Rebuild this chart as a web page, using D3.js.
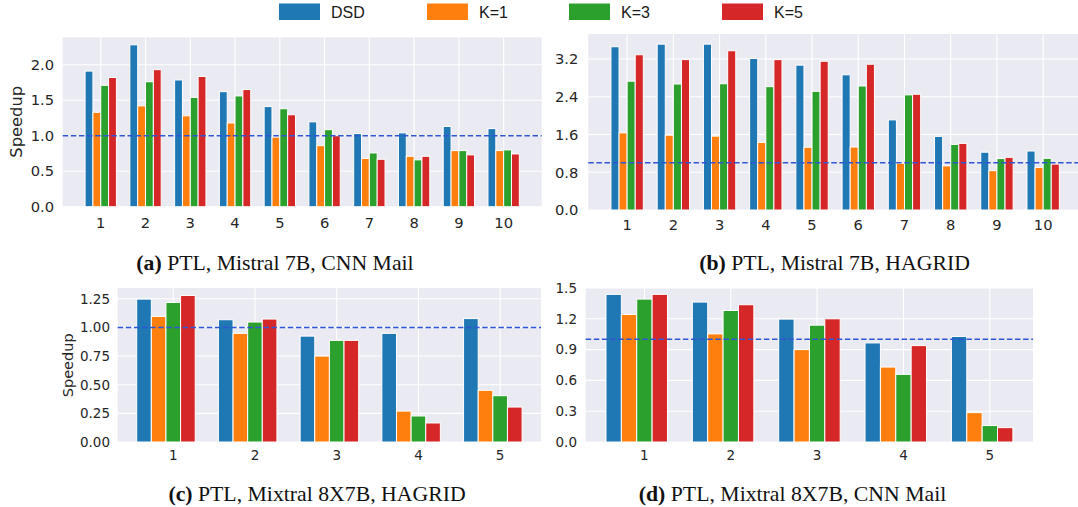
<!DOCTYPE html>
<html>
<head>
<meta charset="utf-8">
<script src="https://cdn.jsdelivr.net/npm/d3@7"></script>
<style>
  body { margin: 0; background: #fff; }
</style>
</head>
<body>
<svg id="fig" width="1078" height="507"></svg>
<script>
//------------------------------- DATA ----------------------------------------
var seriesNames  = ["DSD", "K=1", "K=3", "K=5"];
var seriesColors = ["#1f77b4", "#ff7f0e", "#2ca02c", "#d62728"];

var steps10 = [1, 2, 3, 4, 5, 6, 7, 8, 9, 10];
var steps5  = [1, 2, 3, 4, 5];

// one row per series: DSD, K=1, K=3, K=5
var mistralCnn = [
  [1.91, 2.28, 1.785, 1.62, 1.41, 1.195, 1.03, 1.04, 1.13, 1.10],
  [1.33, 1.42, 1.28, 1.18, 0.98, 0.86, 0.68, 0.71, 0.79, 0.79],
  [1.71, 1.76, 1.54, 1.56, 1.38, 1.085, 0.757, 0.66, 0.79, 0.80],
  [1.82, 1.93, 1.835, 1.65, 1.295, 1.0, 0.668, 0.71, 0.73, 0.743]
];
var mistralHagrid = [
  [3.46, 3.515, 3.515, 3.21, 3.07, 2.865, 1.91, 1.56, 1.225, 1.25],
  [1.635, 1.586, 1.565, 1.433, 1.33, 1.335, 0.99, 0.935, 0.833, 0.90],
  [2.73, 2.67, 2.676, 2.614, 2.516, 2.628, 2.44, 1.39, 1.09, 1.095],
  [3.29, 3.187, 3.375, 3.187, 3.152, 3.089, 2.453, 1.412, 1.117, 0.973]
];
var mixtralHagrid = [
  [1.247, 1.067, 0.924, 0.948, 1.077],
  [1.096, 0.948, 0.75, 0.27, 0.451],
  [1.218, 1.047, 0.887, 0.227, 0.404],
  [1.279, 1.073, 0.887, 0.166, 0.305]
];
var mixtralCnn = [
  [1.438, 1.363, 1.197, 0.965, 1.028],
  [1.242, 1.053, 0.90, 0.73, 0.286],
  [1.392, 1.281, 1.138, 0.659, 0.16],
  [1.438, 1.337, 1.20, 0.939, 0.14]
];

var ticksA = [0, 0.5, 1.0, 1.5, 2.0];
var ticksB = [0, 0.8, 1.6, 2.4, 3.2];
var ticksC = [0, 0.25, 0.5, 0.75, 1.0, 1.25];
var ticksD = [0, 0.3, 0.6, 0.9, 1.2, 1.5];

var baseline = 1.0;

var captionTags  = ["(a)", "(b)", "(c)", "(d)"];
var captionTexts = [" PTL, Mistral 7B, CNN Mail", " PTL, Mistral 7B, HAGRID",
                    " PTL, Mixtral 8X7B, HAGRID", " PTL, Mixtral 8X7B, CNN Mail"];

//------------------------------- LAYOUT --------------------------------------
var svg = d3.select("#fig");
var ink = "#262626";
var sans = "'DejaVu Sans', sans-serif";

var panels = [
  {data: mistralCnn, cats: steps10, ticks: ticksA, fmt: ".1f",
   left: 62.7, right: 541.7, top: 37.3, bottom: 206.7, xDom: [0.15, 10.85], yMax: 2.386,
   barW: 0.175, centered: false, fs: 14.7, yLab: {fs: 16.3, x: 16, y: 121.8}, xDy: 15.8, yGap: 8.7},
  {data: mistralHagrid, cats: steps10, ticks: ticksB, fmt: ".1f",
   left: 588.3, right: 1082, top: 34, bottom: 210, xDom: [0.16, 10.84], yMax: 3.73,
   barW: 0.175, centered: false, fs: 14.7, yLab: null, xDy: 14.5, yGap: 10},
  {data: mixtralHagrid, cats: steps5, ticks: ticksC, fmt: ".2f",
   left: 117.7, right: 541, top: 288, bottom: 442, xDom: [0.32, 5.5], yMax: 1.344,
   barW: 0.179, centered: true, fs: 13.5, yLab: {fs: 14.5, x: 67.7, y: 365.3}, xDy: 13.5, yGap: 7.7},
  {data: mixtralCnn, cats: steps5, ticks: ticksD, fmt: ".1f",
   left: 585.7, right: 1033, top: 288, bottom: 442, xDom: [0.32, 5.5], yMax: 1.5,
   barW: 0.178, centered: true, fs: 13.5, yLab: null, xDy: 13.5, yGap: 8.7}
];

panels.forEach(function(p) {
  var x = d3.scaleLinear().domain(p.xDom).range([p.left, p.right]);
  var y = d3.scaleLinear().domain([0, p.yMax]).range([p.bottom, p.top]);
  var g = svg.append("g");

  // background
  g.append("rect")
    .attr("x", p.left).attr("y", p.top)
    .attr("width", p.right - p.left).attr("height", p.bottom - p.top)
    .attr("fill", "#eaeaf2");

  // grid
  g.selectAll("line.hgrid").data(p.ticks).enter().append("line")
    .attr("x1", p.left).attr("x2", p.right)
    .attr("y1", function(d) { return y(d); }).attr("y2", function(d) { return y(d); })
    .attr("stroke", "#fff").attr("stroke-width", 1.1);
  g.selectAll("line.vgrid").data(p.cats).enter().append("line")
    .attr("x1", function(d) { return x(d); }).attr("x2", function(d) { return x(d); })
    .attr("y1", p.top).attr("y2", p.bottom)
    .attr("stroke", "#fff").attr("stroke-width", 1.1);

  // bars
  p.data.forEach(function(vals, k) {
    var shift = (k - 2) * p.barW - (p.centered ? p.barW / 2 : 0);
    g.selectAll("rect.s" + k).data(vals).enter().append("rect")
      .attr("x", function(d, i) { return x(p.cats[i] + shift); })
      .attr("y", function(d) { return y(d); })
      .attr("width", x(p.barW) - x(0))
      .attr("height", function(d) { return y(0) - y(d); })
      .attr("fill", seriesColors[k])
      .attr("stroke", "#fff").attr("stroke-width", 1);
  });

  // reference line at speedup 1
  g.append("line")
    .attr("x1", p.left).attr("x2", p.right)
    .attr("y1", y(baseline)).attr("y2", y(baseline))
    .attr("stroke", "#2f56d4").attr("stroke-width", 1.5)
    .attr("stroke-dasharray", "5.5,2.6");

  // tick labels
  var f = d3.format(p.fmt);
  g.selectAll("text.yt").data(p.ticks).enter().append("text")
    .attr("x", p.left - p.yGap).attr("y", function(d) { return y(d); })
    .attr("dy", "0.36em").attr("text-anchor", "end")
    .attr("font-family", sans).attr("font-size", p.fs).attr("fill", ink)
    .text(function(d) { return f(d); });
  g.selectAll("text.xt").data(p.cats).enter().append("text")
    .attr("x", function(d) { return x(d); }).attr("y", p.bottom + p.xDy)
    .attr("dy", "0.36em").attr("text-anchor", "middle")
    .attr("font-family", sans).attr("font-size", p.fs).attr("fill", ink)
    .text(function(d) { return d; });

  if (p.yLab) {
    g.append("text")
      .attr("transform", "translate(" + p.yLab.x + "," + p.yLab.y + ") rotate(-90)")
      .attr("dy", "0.36em").attr("text-anchor", "middle")
      .attr("font-family", sans).attr("font-size", p.yLab.fs).attr("fill", ink)
      .text("Speedup");
  }
});

//------------------------------- LEGEND --------------------------------------
var legendX = [279, 427, 569, 722];
var legend = svg.append("g");
seriesNames.forEach(function(name, k) {
  legend.append("rect")
    .attr("x", legendX[k]).attr("y", 3.5)
    .attr("width", 41).attr("height", 16.5)
    .attr("fill", seriesColors[k]);
  legend.append("text")
    .attr("x", legendX[k] + 52).attr("y", 12).attr("dy", "0.36em")
    .attr("font-family", "'Liberation Sans', Arial, sans-serif")
    .attr("font-size", 16).attr("fill", "#1a1a1a")
    .text(name);
});

//------------------------------- CAPTIONS ------------------------------------
var capPos = [[128, 422, 270], [707, 962, 270], [177, 457, 501], [630, 955, 501]];
var caps = capPos.map(function(c, i) {
  var t = svg.append("text")
    .attr("font-family", "'Liberation Serif', 'Times New Roman', serif")
    .attr("font-size", 20).attr("fill", "#111")
    .attr("text-anchor", "middle")
    .attr("x", (c[0] + c[1]) / 2).attr("y", c[2]);
  t.append("tspan").attr("font-weight", "bold").text(captionTags[i]);
  t.append("tspan").text(captionTexts[i]);
  return t;
});
// shrink the serif captions so they span the same width as the reference
var ratio = d3.mean(caps, function(t, i) {
  return (capPos[i][1] - capPos[i][0]) / t.node().getComputedTextLength();
});
caps.forEach(function(t) { t.attr("font-size", 20 * ratio); });
</script>
</body>
</html>
